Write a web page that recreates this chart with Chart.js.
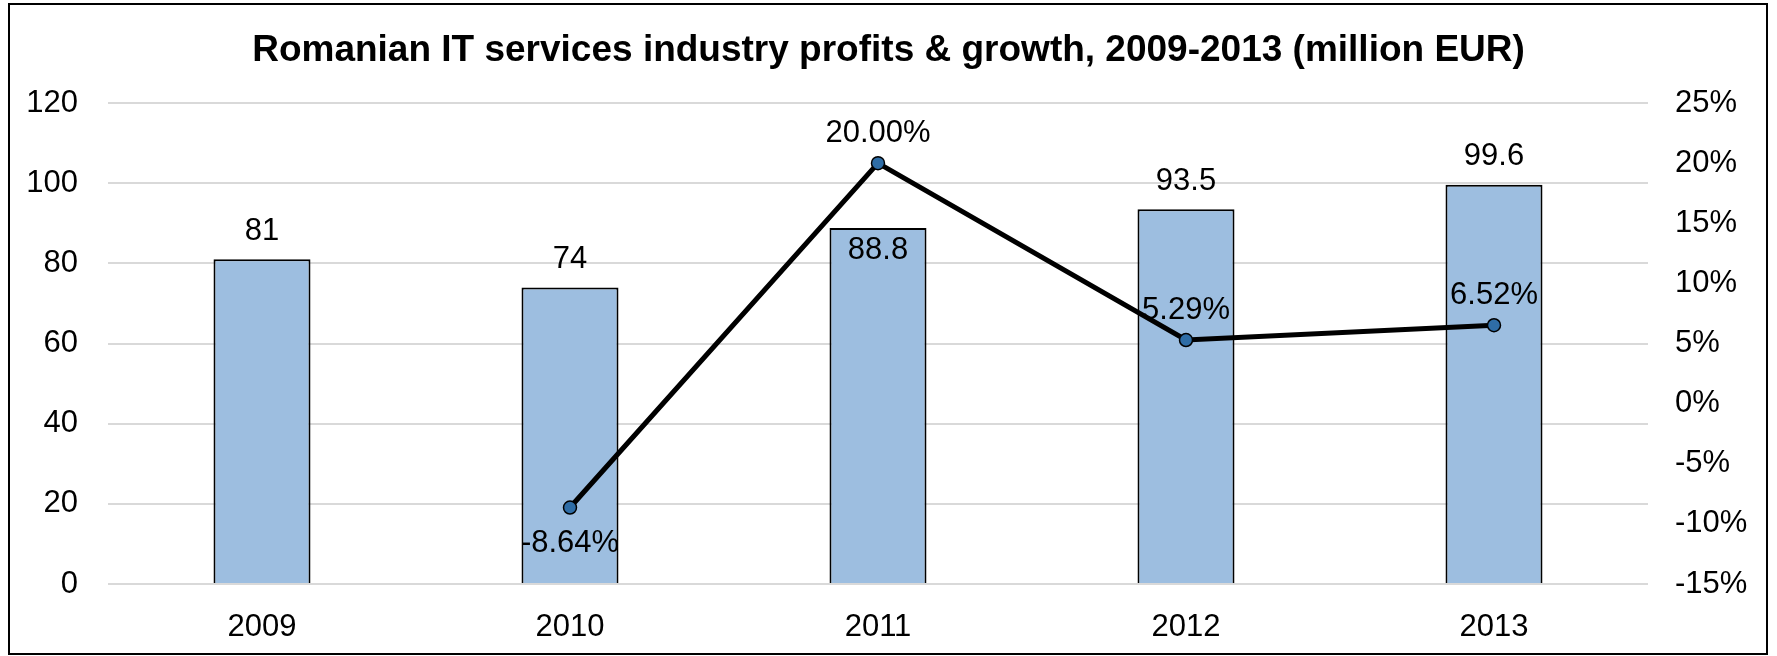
<!DOCTYPE html>
<html>
<head>
<meta charset="utf-8">
<script src="https://cdn.jsdelivr.net/npm/chart.js@4/dist/chart.umd.min.js"></script>
<style>
  body { margin: 0; background: #fff; }
  #wrap { position: absolute; left: 0; top: 0; width: 1777px; height: 656px; }
  #frame { position: absolute; left: 8px; top: 3px; width: 1760px; height: 652px;
           box-sizing: border-box; border: 2px solid #000; pointer-events: none; }
</style>
</head>
<body>
<div id="wrap">
  <canvas id="chart"></canvas>
  <div id="frame"></div>
</div>
<script>
// chart values
var years = ["2009", "2010", "2011", "2012", "2013"];
var profits = [81, 74, 88.8, 93.5, 99.6];
var growth = [null, -8.64, 20.00, 5.29, 6.52];

var leftTicks = [0, 20, 40, 60, 80, 100, 120];
var rightTicks = [-15, -10, -5, 0, 5, 10, 15, 20, 25];

var FONT = "'Liberation Sans', Arial, sans-serif";

// draws the value labels next to bars and points
var valueLabels = {
  id: "valueLabels",
  afterDatasetsDraw: function(chart, args, opts) {
    var ctx = chart.ctx;
    ctx.save();
    ctx.font = "31px " + FONT;
    ctx.fillStyle = "#000";
    ctx.textAlign = "center";
    ctx.textBaseline = "middle";

    chart.getDatasetMeta(0).data.forEach(function(el, i) {
      var v = profits[i];
      var inside = opts.barInside[i];
      ctx.fillText(String(v), el.x, inside ? el.y + 22 : el.y - 28);
    });

    chart.getDatasetMeta(1).data.forEach(function(el, i) {
      var v = growth[i];
      if (v === null) return;
      var below = opts.pointBelow[i];
      ctx.fillText(v.toFixed(2) + "%", el.x, below ? el.y + 36 : el.y - 30);
    });
    ctx.restore();
  }
};

var ctx = document.getElementById("chart").getContext("2d");
new Chart(ctx, {
  type: "bar",
  data: {
    labels: years,
    datasets: [
      {
        type: "bar",
        label: "Profits",
        data: profits,
        yAxisID: "y",
        backgroundColor: "#9DBEE0",
        borderColor: "#000",
        borderWidth: 2,
        barPercentage: 0.315,
        categoryPercentage: 1,
        order: 2
      },
      {
        type: "line",
        label: "Growth",
        data: growth,
        yAxisID: "y1",
        borderColor: "#000",
        borderWidth: 5,
        pointRadius: 6.5,
        pointBackgroundColor: "#2F6DA6",
        pointBorderColor: "#000",
        pointBorderWidth: 1.5,
        tension: 0,
        order: 1
      }
    ]
  },
  options: {
    responsive: true,
    maintainAspectRatio: false,
    animation: false,
    events: [],
    layout: { padding: { left: 10, right: 10, top: 0, bottom: 0 } },
    plugins: {
      legend: { display: false },
      tooltip: { enabled: false },
      title: {
        display: true,
        text: "Romanian IT services industry profits & growth, 2009-2013 (million EUR)",
        color: "#000",
        font: { family: FONT, size: 37, weight: "bold" },
        padding: { top: 29, bottom: 29.6 }
      },
      valueLabels: {
        barInside: [false, false, true, false, false],
        pointBelow: [false, true, false, false, false]
      }
    },
    scales: {
      x: {
        grid: { display: false },
        border: { display: false },
        ticks: { color: "#000", font: { family: FONT, size: 31 }, padding: 17 },
        afterFit: function(s) { s.height = 72; }
      },
      y: {
        position: "left",
        min: leftTicks[0],
        max: leftTicks[leftTicks.length - 1],
        afterBuildTicks: function(s) { s.ticks = leftTicks.map(function(v) { return { value: v }; }); },
        grid: { color: "#D9D9D9", lineWidth: 2, drawTicks: false },
        border: { display: false },
        ticks: { color: "#000", font: { family: FONT, size: 31 }, padding: 30 },
        afterFit: function(s) { s.width = 98; }
      },
      y1: {
        position: "right",
        min: rightTicks[0],
        max: rightTicks[rightTicks.length - 1],
        afterBuildTicks: function(s) { s.ticks = rightTicks.map(function(v) { return { value: v }; }); },
        grid: { display: false, drawTicks: false },
        border: { display: false },
        ticks: {
          color: "#000",
          font: { family: FONT, size: 31 },
          padding: 27,
          callback: function(v) { return v + "%"; }
        },
        afterFit: function(s) { s.width = 119; }
      }
    }
  },
  plugins: [valueLabels]
});
</script>
</body>
</html>
